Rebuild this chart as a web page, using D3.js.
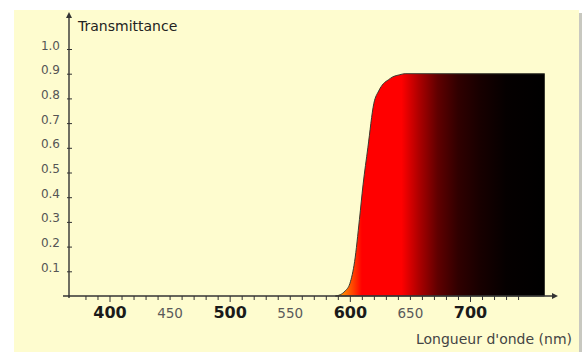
<!DOCTYPE html>
<html>
<head>
<meta charset="utf-8">
<script src="https://cdn.jsdelivr.net/npm/d3@7"></script>
<style>
  body { margin: 0; background: #fff; }
  svg { display: block; font-family: "DejaVu Sans", sans-serif; }
</style>
</head>
<body>
<svg id="chart"></svg>
<script>
// transmittance curve
const wavelengths   = [588, 592, 596, 600, 604, 608, 611, 615, 620, 624, 628, 632, 636, 641, 646, 762];
const transmittance = [0, 0.005, 0.02, 0.05, 0.14, 0.31, 0.45, 0.6, 0.78, 0.83, 0.86, 0.875, 0.888, 0.895, 0.9, 0.9];

// colour of the fill along the wavelength
const gradWavelengths = [585, 595, 603, 610, 643, 657, 673, 690, 708, 730, 762];
const gradColors = ["#ffb000", "#ff8000", "#ff4000", "#ff0000", "#ff0000", "#b00000", "#600000", "#300000", "#180000", "#050000", "#000000"];

const xTicks = d3.range(380, 750, 10);
const xLabels = [400, 450, 500, 550, 600, 650, 700];
const yTicks = [0.1, 0.2, 0.3, 0.4, 0.5, 0.6, 0.7, 0.8, 0.9, 1.0];

const width = 582, height = 352;
const data = wavelengths.map((w, i) => ({w: w, t: transmittance[i]}));

const svg = d3.select("#chart")
    .attr("width", width)
    .attr("height", height);

const x = d3.scaleLinear().domain([400, 700]).range([109.5, 470]);
const y = d3.scaleLinear().domain([0, 1]).range([296, 49]);

// panel + shadow
svg.append("rect")
    .attr("x", 17).attr("y", 13)
    .attr("width", 565).attr("height", height)
    .attr("fill", "#c8c8c0");
svg.append("rect")
    .attr("x", 14).attr("y", 10)
    .attr("width", 565).attr("height", height)
    .attr("fill", "#fefccf");

const defs = svg.append("defs");
const grad = defs.append("linearGradient")
    .attr("id", "spectrum")
    .attr("gradientUnits", "userSpaceOnUse")
    .attr("x1", x(gradWavelengths[0])).attr("y1", 0)
    .attr("x2", x(gradWavelengths[gradWavelengths.length - 1])).attr("y2", 0);
const gx0 = x(gradWavelengths[0]), gx1 = x(gradWavelengths[gradWavelengths.length - 1]);
grad.selectAll("stop")
    .data(gradWavelengths)
    .join("stop")
    .attr("offset", d => (x(d) - gx0) / (gx1 - gx0))
    .attr("stop-color", (d, i) => gradColors[i]);

// filled curve
const area = d3.area()
    .x(d => x(d.w))
    .y0(y(0))
    .y1(d => y(d.t))
    .curve(d3.curveMonotoneX);

svg.append("path")
    .datum(data)
    .attr("d", area)
    .attr("fill", "url(#spectrum)")
    .attr("stroke", "#3a3a30")
    .attr("stroke-width", 1)
    .attr("stroke-linejoin", "round");

const axisColor = "#333";

// x axis ticks
const xAxis = svg.append("g")
    .attr("transform", `translate(0,${y(0)})`)
    .call(d3.axisBottom(x)
        .tickValues(xTicks)
        .tickSizeOuter(0)
        .tickSize(4)
        .tickFormat(d => xLabels.includes(d) ? d : ""));
xAxis.select(".domain").remove();
xAxis.selectAll(".tick line")
    .attr("stroke", axisColor)
    .attr("y1", 0)
    .attr("y2", d => d % 100 === 0 ? 6 : 4);
xAxis.selectAll(".tick text")
    .attr("y", 22)
    .attr("dy", 0)
    .attr("font-family", "DejaVu Sans, sans-serif")
    .attr("font-size", d => d % 100 === 0 ? 16 : 13.5)
    .attr("font-weight", d => d % 100 === 0 ? "bold" : "normal")
    .attr("fill", d => d % 100 === 0 ? "#1a1a1a" : "#5a5a5a");

// y axis ticks
const yAxis = svg.append("g")
    .attr("transform", `translate(69,0)`)
    .call(d3.axisLeft(y)
        .tickValues(yTicks)
        .tickSizeInner(-3)
        .tickSizeOuter(0)
        .tickPadding(9)
        .tickFormat(d3.format(".1f")));
yAxis.select(".domain").remove();
yAxis.selectAll(".tick line")
    .attr("stroke", axisColor)
    .attr("x1", -2);
yAxis.selectAll(".tick text")
    .attr("dy", 0)
    .attr("font-family", "DejaVu Sans, sans-serif")
    .attr("font-size", 12)
    .attr("fill", "#555");

// axis lines with arrow heads
svg.append("line")
    .attr("x1", 63).attr("y1", y(0))
    .attr("x2", 554).attr("y2", y(0))
    .attr("stroke", axisColor).attr("stroke-width", 1.4);
svg.append("path")
    .attr("d", `M558,${y(0)} L552,${y(0) - 3} L552,${y(0) + 3} Z`)
    .attr("fill", axisColor);
svg.append("line")
    .attr("x1", 69).attr("y1", 298)
    .attr("x2", 69).attr("y2", 16)
    .attr("stroke", axisColor).attr("stroke-width", 1.4);
svg.append("path")
    .attr("d", "M69,12 L66,18 L72,18 Z")
    .attr("fill", axisColor);

// axis titles
svg.append("text")
    .attr("x", 78).attr("y", 31)
    .attr("font-size", 14)
    .attr("fill", "#222")
    .text("Transmittance");
svg.append("text")
    .attr("x", 572).attr("y", 344)
    .attr("text-anchor", "end")
    .attr("font-size", 14)
    .attr("fill", "#444")
    .text("Longueur d'onde (nm)");
</script>
</body>
</html>
